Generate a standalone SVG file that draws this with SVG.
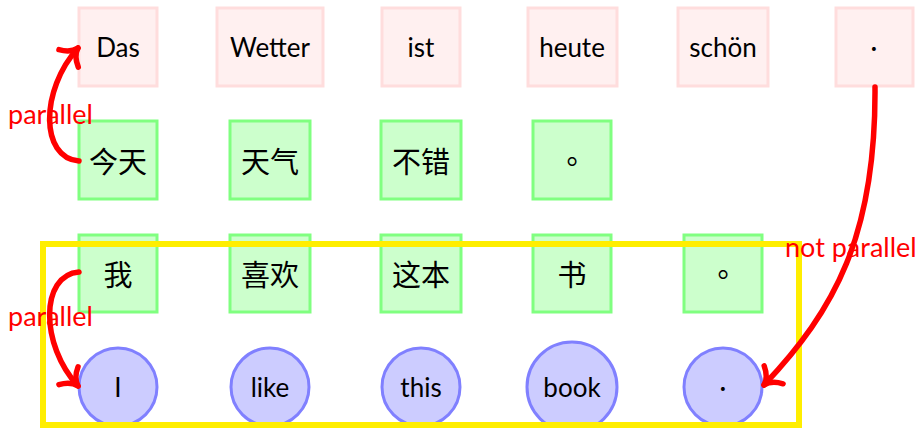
<svg xmlns="http://www.w3.org/2000/svg" width="920" height="428" viewBox="0 0 920 428">
<style>
.de rect{fill:#fff0f0;stroke:#ffdddd;stroke-width:3}
.zh rect{fill:#ccffcc;stroke:#80ff80;stroke-width:3}
.en circle{fill:#ccccff;stroke:#8080ff;stroke-width:3}
.lt{font-family:Lato,"Liberation Sans",sans-serif;font-size:26px;fill:#000;text-anchor:middle}
.cj{font-family:"Noto Sans CJK SC",sans-serif;font-size:29px;fill:#000;text-anchor:middle;dominant-baseline:central}
.cjp{font-family:"Noto Sans CJK TC",sans-serif;font-size:29px;fill:#000;text-anchor:middle;dominant-baseline:central}
.lbl{font-family:Lato,"Liberation Sans",sans-serif;font-size:27px;fill:#ff0000}
.arr{fill:none;stroke:#ff0000;stroke-width:5.5;stroke-linecap:round}
</style>
<defs>
<marker id="ah" markerUnits="userSpaceOnUse" markerWidth="40" markerHeight="40" viewBox="-20 -20 40 40" refX="0" refY="0" orient="auto" overflow="visible">
<path d="M-14,-13 C-10,-5 -4,-1 0,0 C-4,1 -10,5 -14,13" fill="none" stroke="#ff0000" stroke-width="5.5" stroke-linecap="round" stroke-linejoin="round"/>
</marker>
</defs>
<g id="de-row" class="de">
<g id="de1"><rect x="79" y="8" width="78" height="78"/><text class="lt" x="118" y="57">Das</text></g>
<g id="de2"><rect x="217" y="8" width="106" height="78"/><text class="lt" x="270" y="57">Wetter</text></g>
<g id="de3"><rect x="382" y="8" width="78" height="78"/><text class="lt" x="421" y="57">ist</text></g>
<g id="de4"><rect x="528" y="8" width="89" height="78"/><text class="lt" x="572" y="57">heute</text></g>
<g id="de5"><rect x="678" y="8" width="90" height="78"/><text class="lt" x="723" y="57">schön</text></g>
<g id="de6"><rect x="836" y="8" width="77" height="78"/><text class="lt" x="874" y="57">·</text></g>
</g>
<g id="zh1-row" class="zh">
<g id="zh1a"><rect x="79" y="121" width="78" height="78"/><text class="cj" x="118" y="160">今天</text></g>
<g id="zh1b"><rect x="230" y="121" width="80" height="78"/><text class="cj" x="270" y="160">天气</text></g>
<g id="zh1c"><rect x="381" y="121" width="80" height="78"/><text class="cj" x="421" y="160">不错</text></g>
<g id="zh1d"><rect x="533" y="121" width="78" height="78"/><text class="cjp" x="572" y="160">。</text></g>
</g>
<g id="zh2-row" class="zh">
<g id="zh2a"><rect x="79" y="235" width="78" height="77"/><text class="cj" x="118" y="273">我</text></g>
<g id="zh2b"><rect x="230" y="235" width="80" height="77"/><text class="cj" x="270" y="273">喜欢</text></g>
<g id="zh2c"><rect x="381" y="235" width="80" height="77"/><text class="cj" x="421" y="273">这本</text></g>
<g id="zh2d"><rect x="533" y="235" width="78" height="77"/><text class="cj" x="572" y="273">书</text></g>
<g id="zh2e"><rect x="684" y="235" width="78" height="77"/><text class="cjp" x="723" y="273">。</text></g>
</g>
<g id="en-row" class="en">
<g id="en1"><circle cx="118" cy="387" r="39"/><text class="lt" x="118" y="397">I</text></g>
<g id="en2"><circle cx="270" cy="387" r="39"/><text class="lt" x="270" y="397">like</text></g>
<g id="en3"><circle cx="421" cy="387" r="39"/><text class="lt" x="421" y="397">this</text></g>
<g id="en4"><circle cx="572" cy="387" r="45"/><text class="lt" x="572" y="397">book</text></g>
<g id="en5"><circle cx="723" cy="387" r="39"/><text class="lt" x="723" y="397">·</text></g>
</g>
<g id="highlight">
<rect x="43" y="244" width="756" height="181" fill="none" stroke="#ffee00" stroke-width="6"/>
</g>
<g id="connectors">
<text class="lbl" x="8" y="124">parallel</text>
<path class="arr" d="M79,161 C40,158 40,90 78,48" marker-end="url(#ah)"/>
<text class="lbl" x="8" y="326">parallel</text>
<path class="arr" d="M79,272 C40,275 40,345 78,386" marker-end="url(#ah)"/>
<text class="lbl" x="785" y="257">not parallel</text>
<path class="arr" d="M875,87 C876,235 835,310 764,385" marker-end="url(#ah)"/>
</g>
</svg>
